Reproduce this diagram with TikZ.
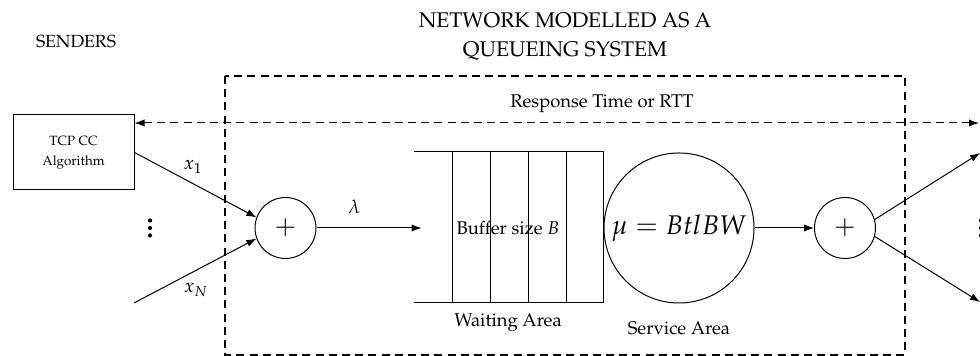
\documentclass[tikz,border=0pt]{standalone}
\usepackage[T1]{fontenc}
\usepackage{mathpazo}
\usetikzlibrary{arrows.meta}
\begin{document}
\begin{tikzpicture}[x=0.5pt,y=-0.5pt,
  wire/.style={line width=0.5pt},
  arr/.style={line width=0.5pt,-{Latex[length=5pt,width=3.6pt]}},
  dblarr/.style={line width=0.5pt,dash pattern=on 4pt off 2.6pt,{Latex[length=5pt,width=3.6pt]}-{Latex[length=5pt,width=3.6pt]}},
  sysbox/.style={line width=0.85pt,dash pattern=on 4pt off 2.6pt},
  sumnode/.style={circle,draw,line width=0.5pt,minimum size=30.5pt,inner sep=0pt,font=\fontsize{13}{13}\selectfont},
  lbl/.style={font=\fontsize{9.2}{11}\selectfont},
  title/.style={font=\fontsize{10.6}{14.5}\selectfont,align=center},
  mathlbl/.style={font=\fontsize{9.5}{11}\selectfont},
  dotsnode/.style={inner sep=0pt,minimum size=2pt},
]
\useasboundingbox (0,0) rectangle (980,356);

% headings
\node[lbl,font=\fontsize{8.8}{11}\selectfont] (senders) at (76,42) {SENDERS};
\node[title] (nettitle) at (565,37) {NETWORK MODELLED AS A\\QUEUEING SYSTEM};

% the network boundary
\draw[sysbox] (225,76) rectangle (905,355);

% sender block
\node[draw,line width=0.5pt,minimum width=60.5pt,minimum height=37.5pt,align=center,
      font=\fontsize{6.7}{10}\selectfont] (tcp) at (73.5,152.5) {TCP CC\\Algorithm};

% round-trip time
\coordinate (rttR) at (979,123);
\draw[dblarr] (tcp.east |- rttR) -- (rttR);
\node[lbl] (rtt) at (602,104) {Response Time or RTT};

% aggregation of sender flows
\node[sumnode] (sumin) at (285.5,228) {$+$};
\coordinate (srcN) at (134,303);
\draw[arr] (tcp.east) -- (sumin.160);
\draw[arr] (srcN) -- (sumin.200);
\node[mathlbl] (x1) at (193,167) {$x_1$};
\node[mathlbl] (xN) at (196,290) {$x_N$};

% vertical ellipses between the flows
\node[dotsnode] (dotsL) at (150,228) {};
\node[dotsnode] (dotsR) at (981,228) {};
\foreach \d in {dotsL,dotsR}
  \foreach \dy in {-7.5,0,7.5}
    \fill ([yshift=-\dy*0.5pt]\d.center) circle (1.05pt);

% waiting area (buffer)
\node[minimum width=94.5pt,minimum height=75.5pt,inner sep=0pt] (buffer) at (508.5,228) {};
\draw[wire] (414,152) -- (603,152) -- (603,303) -- (414,303);
\foreach \xc in {452,490,528,566} \draw[wire] (\xc,152) -- (\xc,303);
\node[lbl] (bufsize) at (508,228) {Buffer size $B$};
\node[lbl] (waiting) at (508,323) {Waiting Area};
\draw[arr] (sumin.east) -- node[mathlbl,above=3.5pt,pos=0.36] (lambda) {$\lambda$} ([xshift=4pt]buffer.west);

% service area
\node[circle,draw,line width=0.5pt,minimum size=75pt,inner sep=0pt,font=\fontsize{13.5}{14}\selectfont] (server) at (679,228) {$\mu = BtlBW$};
\node[lbl] (service) at (679,328) {Service Area};

% departures
\node[sumnode] (sumout) at (845,228) {$+$};
\draw[arr] (server.east) -- (sumout.west);
\coordinate (out1) at (980,153);
\coordinate (out2) at (980,302);
\draw[arr] (sumout.16) -- (out1);
\draw[arr] (sumout.-16) -- (out2);
\end{tikzpicture}
\end{document}
